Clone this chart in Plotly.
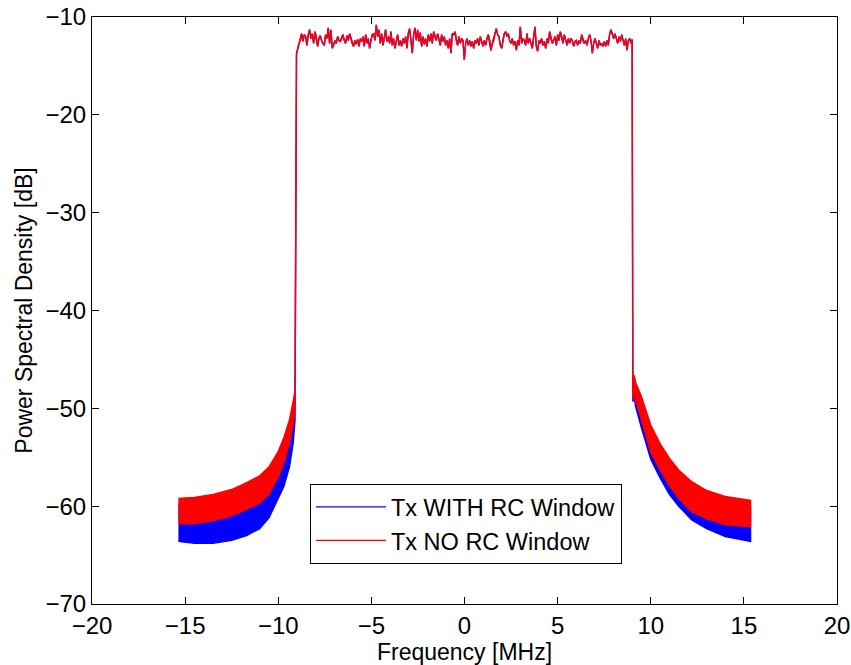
import numpy as np
import plotly.graph_objects as go

# ---------------- data ----------------
# Left out-of-band sidelobe region (MHz) and its band envelopes (dB)
left_f = [-15.36, -14.5, -13.5, -12.5, -11.7, -11.0, -10.5, -10.0, -9.7, -9.4, -9.2, -9.1]
red_left_upper = [-59.2, -59.1, -58.8, -58.3, -57.6, -56.9, -56.0, -54.4, -53.0, -51.2, -49.3, -48.2]
red_left_lower = [-61.8, -61.8, -61.5, -61.0, -60.3, -59.7, -58.8, -57.0, -55.6, -53.6, -51.6, -50.4]
blue_left_upper = [-59.8, -59.7, -59.4, -58.9, -58.2, -57.5, -56.6, -55.0, -53.6, -51.8, -49.9, -48.8]
blue_left_lower = [-63.6, -63.8, -63.8, -63.5, -63.0, -62.3, -61.2, -59.2, -58.0, -56.0, -53.6, -51.2]

# Right out-of-band sidelobe region
right_f = [9.1, 9.2, 9.5, 10.0, 10.5, 11.0, 11.5, 12.2, 13.0, 14.0, 15.36]
red_right_upper = [-46.6, -47.4, -48.8, -51.7, -53.6, -55.1, -56.3, -57.5, -58.4, -59.0, -59.4]
red_right_lower = [-48.1, -49.2, -51.2, -54.5, -56.3, -57.9, -59.2, -60.6, -61.3, -61.9, -62.1]
blue_right_upper = [-47.2, -48.0, -49.4, -52.3, -54.2, -55.7, -56.9, -58.1, -59.0, -59.6, -60.0]
blue_right_lower = [-48.8, -49.9, -52.0, -55.2, -57.1, -58.8, -60.0, -61.4, -62.3, -63.1, -63.6]

# Band edges
left_edge_f = [-9.02]
left_edge_db = [-13.8]
right_edge_f = [9.0, 9.04]
right_edge_db = [-12.3, -49.3]

# In-band PSD ripple (dB), sampled evenly from -8.89 to 8.94 MHz
inband_start, inband_stop = -8.89, 8.94
inband_db = [
    -12.7, -12.4, -11.7, -12.5, -11.8, -12.0, -12.9, -11.8, -11.3, -12.2,
    -11.7, -12.7, -11.5, -12.0, -13.0, -12.2, -11.9, -12.4, -12.7, -12.9,
    -11.8, -12.2, -11.1, -12.7, -11.3, -13.2, -12.9, -12.4, -12.7, -12.0,
    -12.4, -12.5, -12.2, -11.8, -12.4, -12.7, -11.9, -12.4, -11.7, -12.2,
    -12.7, -13.0, -12.4, -12.8, -12.3, -13.0, -12.2, -12.5, -12.0, -13.0,
    -11.8, -12.7, -12.2, -13.2, -12.4, -11.8, -11.7, -12.4, -10.8, -12.0,
    -11.3, -12.7, -11.7, -12.9, -12.2, -11.3, -12.5, -12.0, -12.7, -11.5,
    -12.9, -12.2, -13.2, -12.5, -11.8, -12.9, -12.4, -13.0, -12.2, -12.7,
    -12.0, -13.2, -11.7, -11.2, -12.4, -13.7, -11.8, -11.1, -12.4, -11.3,
    -12.5, -11.6, -13.0, -12.0, -12.8, -12.2, -13.0, -11.8, -12.5, -11.7,
    -12.7, -11.5, -12.0, -12.4, -11.7, -12.3, -12.9, -11.8, -12.5, -12.0,
    -12.9, -12.4, -13.2, -12.2, -13.7, -11.7, -11.8, -11.5, -12.4, -12.9,
    -12.0, -12.7, -12.2, -12.4, -14.4,
    -12.7, -12.2, -12.9, -12.4, -13.0, -12.5, -13.2, -12.4, -12.7, -12.2,
    -12.9, -12.0, -12.5, -13.0, -12.4, -12.9, -12.2, -11.8, -12.4, -13.4,
    -12.7, -12.4, -11.7, -11.2, -11.8, -12.0, -12.9, -13.2, -12.4, -11.7,
    -11.5, -12.0, -11.7, -12.4, -12.7, -12.2, -12.9, -12.5, -13.4, -12.4,
    -12.9, -11.0, -12.7, -12.2, -12.4, -12.9, -11.7, -12.7, -12.2, -12.7,
    -13.2, -12.0, -11.0, -13.0, -13.5, -12.4, -12.7, -12.2, -12.9, -12.5,
    -13.2, -12.2, -12.7, -11.5, -12.2, -12.7, -12.4, -12.0, -12.9, -11.8,
    -12.4, -11.5, -12.0, -12.7, -11.8, -12.4, -12.9, -12.2, -12.7, -12.2,
    -12.4, -13.0, -12.5, -12.4, -12.9, -12.4, -12.7, -11.8, -12.4, -12.7,
    -12.4, -12.9, -12.2, -11.8, -12.4, -13.7, -12.7, -12.2, -12.7, -13.2,
    -12.4, -12.9, -12.7, -13.0, -12.5, -13.0, -12.4, -12.9, -11.7, -11.3,
    -11.8, -12.2, -11.7, -12.2, -12.7, -12.0, -12.5, -11.8, -12.4, -12.9,
    -12.2, -13.4, -12.4, -12.2, -12.7,
]

series_names = ["Tx WITH RC Window", "Tx NO RC Window"]
series_colors = ["#0000FF", "#FF0000"]

x_ticks = [-20, -15, -10, -5, 0, 5, 10, 15, 20]
y_ticks = [-70, -60, -50, -40, -30, -20, -10]

# ---------------- build ----------------
inband_f = list(np.linspace(inband_start, inband_stop, len(inband_db)))


def band_polygon(l_up, l_lo, r_up, r_lo):
    xs = left_f + left_edge_f + inband_f + right_edge_f + right_f
    yu = l_up + left_edge_db + inband_db + right_edge_db + r_up
    yl = l_lo + left_edge_db + inband_db + right_edge_db + r_lo
    return xs + xs[::-1], yu + yl[::-1]


fig = go.Figure()
polys = [
    band_polygon(blue_left_upper, blue_left_lower, blue_right_upper, blue_right_lower),
    band_polygon(red_left_upper, red_left_lower, red_right_upper, red_right_lower),
]
for (px, py), col in zip(polys, series_colors):
    fig.add_trace(go.Scatter(x=px, y=py, mode="lines", fill="toself", fillcolor=col,
                             line=dict(color=col, width=1.4), showlegend=False,
                             hoverinfo="skip"))
for name, col in zip(series_names, series_colors):
    fig.add_trace(go.Scatter(x=[None], y=[None], mode="lines", name=name,
                             line=dict(color=col, width=1.2)))

font_family = "Liberation Sans, Arial, Helvetica, sans-serif"
axis_common = dict(showline=True, linecolor="black", linewidth=1, mirror="allticks",
                   ticks="inside", ticklen=7, tickcolor="black", tickwidth=1,
                   showgrid=False, zeroline=False, automargin=False,
                   tickfont=dict(family=font_family, size=24, color="black"))

fig.update_layout(
    width=851, height=665,
    margin=dict(l=92, r=14, t=17, b=61),
    paper_bgcolor="white", plot_bgcolor="white",
    font=dict(family=font_family, size=23, color="black"),
    xaxis=dict(range=[-20, 20], tickvals=x_ticks,
               title=dict(text="Frequency [MHz]", standoff=2,
                          font=dict(family=font_family, size=23)),
               **axis_common),
    yaxis=dict(range=[-70, -10], tickvals=y_ticks,
               title=dict(text="Power Spectral Density [dB]", standoff=6,
                          font=dict(family=font_family, size=23)),
               **axis_common),
    legend=dict(x=0.2926, y=0.2044, xanchor="left", yanchor="top",
                bgcolor="white", bordercolor="black", borderwidth=1,
                font=dict(family=font_family, size=23.5), itemwidth=70,
                tracegroupgap=0),
)

fig.write_html("out.html", config={"displayModeBar": False},
               post_script="document.body.style.margin='0px';document.body.style.overflow='hidden';")
